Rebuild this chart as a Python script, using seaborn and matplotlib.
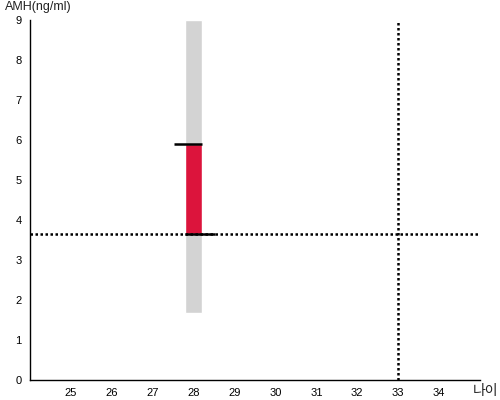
import matplotlib
matplotlib.use("Agg")
import matplotlib.pyplot as plt
import seaborn as sns
import pandas as pd

# data
ages = [28]
range_low = [1.67]
range_high = [9.0]
amh_low = [3.65]
amh_high = [5.9]
ref_age = 33
ref_amh = 3.65
x_ticks = list(range(25, 35))
y_ticks = list(range(0, 10))

sns.set_theme(style="white")
plt.rcParams['font.family'] = ['Liberation Sans', 'Noto Sans CJK KR', 'DejaVu Sans']

fig = plt.figure(figsize=(5, 4), dpi=100)
ax = fig.add_axes([0.06, 0.05, 0.90, 0.90])

df = pd.DataFrame({"age": ages, "lo": range_low, "hi": range_high,
                   "alo": amh_low, "ahi": amh_high})

ax.bar(df["age"], df["hi"] - df["lo"], bottom=df["lo"], width=0.4,
       color="#d3d3d3", zorder=1)
ax.bar(df["age"], df["ahi"] - df["alo"], bottom=df["alo"], width=0.4,
       color="#dc143c", zorder=2)
ax.hlines(df["ahi"], df["age"] - 0.48, df["age"] + 0.2, color="black", lw=1.8, zorder=3)
ax.hlines(df["alo"], df["age"] - 0.2, df["age"] + 0.52, color="black", lw=1.8, zorder=3)

ax.axhline(ref_amh, color="black", lw=1.8, ls=(0, (1, 1)), zorder=2.5)
ax.axvline(ref_age, color="black", lw=1.8, ls=(0, (1, 1)), zorder=2.5)

ax.set_xlim(24, 35)
ax.set_ylim(0, 9)
ax.set_xticks(x_ticks)
ax.set_yticks(y_ticks)
ax.tick_params(axis="both", length=0, labelsize=8, pad=6, colors="black")
sns.despine(ax=ax)
for s in ["left", "bottom"]:
    ax.spines[s].set_color("black")
    ax.spines[s].set_linewidth(1)

fig.text(0.01, 0.997, "AMH(ng/ml)", fontsize=9, va="top", ha="left", color="#222222")
fig.text(0.997, 0.022, "나이", fontsize=10, va="center", ha="right", color="#222222")

fig.savefig("out.png", dpi=100)
